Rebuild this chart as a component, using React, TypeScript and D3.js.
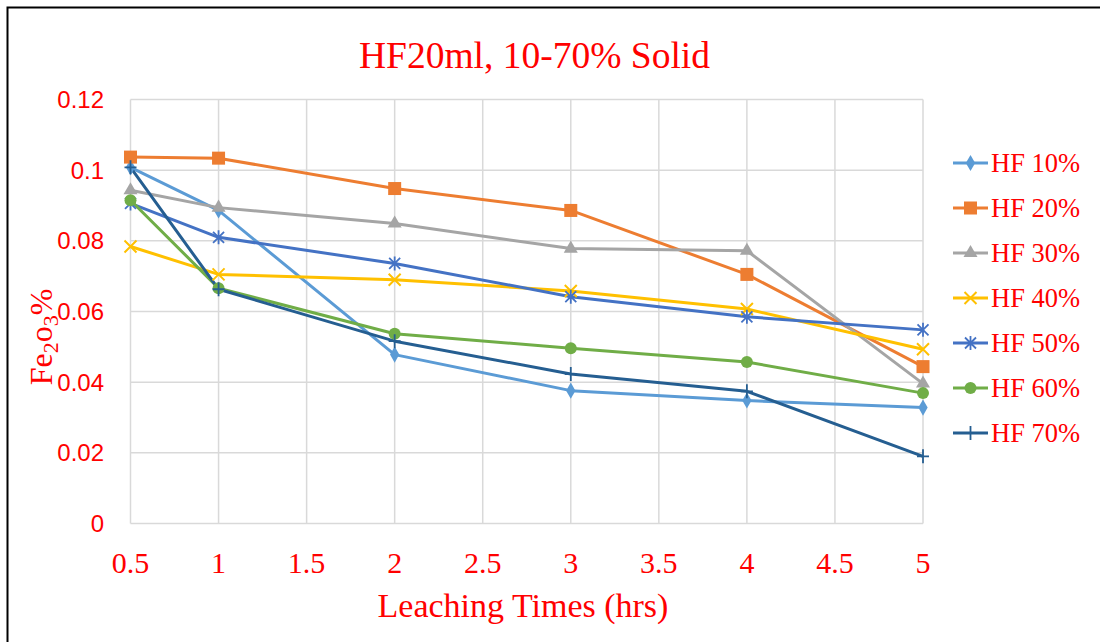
import React from "react";
import * as d3 from "d3";

const times = [0.5, 1, 2, 3, 4, 5];
const seriesNames = ["HF 10%", "HF 20%", "HF 30%", "HF 40%", "HF 50%", "HF 60%", "HF 70%"];
const hf10 = [0.1008, 0.0886, 0.0478, 0.0376, 0.0348, 0.0328];
const hf20 = [0.1037, 0.1034, 0.0948, 0.0886, 0.0705, 0.0444];
const hf30 = [0.0943, 0.0894, 0.0849, 0.0778, 0.0772, 0.0396];
const hf40 = [0.0784, 0.0705, 0.069, 0.0658, 0.0607, 0.0493];
const hf50 = [0.0906, 0.081, 0.0736, 0.0642, 0.0585, 0.0548];
const hf60 = [0.0915, 0.0666, 0.0537, 0.0496, 0.0457, 0.0369];
const hf70 = [0.1008, 0.0663, 0.0516, 0.0423, 0.0374, 0.019];
const seriesValues = [hf10, hf20, hf30, hf40, hf50, hf60, hf70];
const colors = ["#5b9bd5", "#ed7d31", "#a5a5a5", "#ffc000", "#4472c4", "#70ad47", "#255e91"];
const markers = ["diamond", "square", "triangle", "x", "asterisk", "circle", "plus"];
const xTicks = [0.5, 1, 1.5, 2, 2.5, 3, 3.5, 4, 4.5, 5];
const yTicks = [0, 0.02, 0.04, 0.06, 0.08, 0.1, 0.12];

const serif = "'Liberation Serif', 'Times New Roman', serif";
const sans = "'Liberation Sans', Arial, sans-serif";
const RED = "#ff0000";

function Marker({ type, x, y, color }: { type: string; x: number; y: number; color: string }) {
  const t = `translate(${x},${y})`;
  switch (type) {
    case "diamond":
      return <path transform={t} d={d3.symbol(d3.symbolDiamond, 75)()!} fill={color} />;
    case "square":
      return <rect x={x - 6.5} y={y - 6.5} width={13} height={13} fill={color} />;
    case "triangle":
      return <path transform={t} d={d3.symbol(d3.symbolTriangle, 85)()!} fill={color} />;
    case "circle":
      return <circle cx={x} cy={y} r={6} fill={color} />;
    case "x":
      return (
        <path transform={t} d="M-6,-6L6,6M-6,6L6,-6" stroke={color} strokeWidth={2} fill="none" />
      );
    case "asterisk":
      return (
        <path
          transform={t}
          d="M-5.5,-5.5L5.5,5.5M-5.5,5.5L5.5,-5.5M0,-7L0,7"
          stroke={color}
          strokeWidth={1.8}
          fill="none"
        />
      );
    case "plus":
      return (
        <path transform={t} d="M-6,0L6,0M0,-7L0,7" stroke={color} strokeWidth={1.8} fill="none" />
      );
    default:
      return null;
  }
}

export default function App() {
  const W = 1100;
  const H = 642;
  const x = d3.scaleLinear().domain([0.5, 5]).range([130.5, 923]);
  const y = d3.scaleLinear().domain([0, 0.12]).range([523.5, 99.5]);
  const line = d3
    .line<number>()
    .x((_, i) => x(times[i]))
    .y((d) => y(d));

  return (
    <svg
      width={W}
      height={H}
      style={{ position: "fixed", left: 0, top: 0, background: "#fff" }}
    >
      <rect x={0} y={0} width={W} height={H} fill="#fff" />
      {/* outer border (top and left visible) */}
      <path d={`M7.5,${H}L7.5,7.5L${W},7.5`} stroke="#000" strokeWidth={2} fill="none" />

      {/* gridlines */}
      {yTicks.map((t) => (
        <line key={"gy" + t} x1={x(0.5)} x2={x(5)} y1={y(t)} y2={y(t)} stroke="#d9d9d9" strokeWidth={1.5} />
      ))}
      {xTicks.map((t) => (
        <line key={"gx" + t} x1={x(t)} x2={x(t)} y1={y(0)} y2={y(0.12)} stroke="#d9d9d9" strokeWidth={1.5} />
      ))}

      {/* y tick labels */}
      {yTicks.map((t) => (
        <text
          key={"ty" + t}
          x={104}
          y={y(t)}
          dy="0.36em"
          textAnchor="end"
          fontFamily={sans}
          fontSize={24}
          fill={RED}
        >
          {d3.format("")(t)}
        </text>
      ))}
      {/* x tick labels */}
      {xTicks.map((t) => (
        <text
          key={"tx" + t}
          x={x(t)}
          y={573}
          textAnchor="middle"
          fontFamily={serif}
          fontSize={30}
          fill={RED}
        >
          {String(t)}
        </text>
      ))}

      {/* series */}
      {seriesValues.map((vals, si) => (
        <path key={"l" + si} d={line(vals)!} fill="none" stroke={colors[si]} strokeWidth={3} strokeLinejoin="round" />
      ))}
      {seriesValues.map((vals, si) => (
        <g key={"m" + si}>
          {vals.map((v, i) => (
            <Marker key={i} type={markers[si]} x={x(times[i])} y={y(v)} color={colors[si]} />
          ))}
        </g>
      ))}

      {/* title */}
      <text x={534.5} y={68} textAnchor="middle" fontFamily={serif} fontSize={37.5} fill={RED}>
        HF20ml, 10-70% Solid
      </text>
      {/* x axis title */}
      <text x={523} y={617} textAnchor="middle" fontFamily={serif} fontSize={34} fill={RED}>
        Leaching Times (hrs)
      </text>
      {/* y axis title */}
      <text
        transform="translate(52,337) rotate(-90)"
        textAnchor="middle"
        fontFamily={serif}
        fontSize={32}
        fill={RED}
      >
        Fe
        <tspan fontSize={22} dy={6}>2</tspan>
        <tspan dy={-6}>o</tspan>
        <tspan fontSize={22} dy={6}>3</tspan>
        <tspan dy={-6}>%</tspan>
      </text>

      {/* legend */}
      {seriesNames.map((name, i) => {
        const ly = 163 + i * 45;
        return (
          <g key={"lg" + i}>
            <line x1={953} x2={988} y1={ly} y2={ly} stroke={colors[i]} strokeWidth={3} />
            <Marker type={markers[i]} x={970.5} y={ly} color={colors[i]} />
            <text x={991} y={ly} dy="0.33em" fontFamily={serif} fontSize={26.5} fill={RED}>
              {name}
            </text>
          </g>
        );
      })}
    </svg>
  );
}
